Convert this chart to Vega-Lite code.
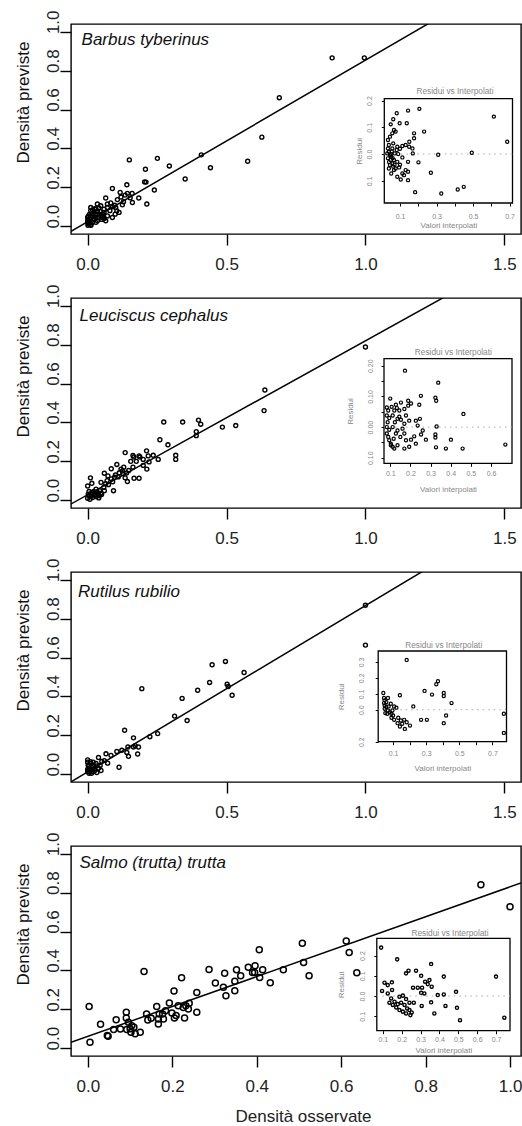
{
"$schema": "https://vega.github.io/schema/vega-lite/v6.json",
"padding": {"left": 13, "top": 9, "right": 0, "bottom": 0},
"config": {
 "font": "Liberation Sans",
 "view": {"stroke": "black", "strokeWidth": 1.4},
 "axis": {"grid": false, "domain": false, "labelFlush": false, "labelOverlap": false, "tickColor": "black", "titleFontWeight": "normal"}
},
"datasets": {
 "fits": [
  {"panel":1,"x1":-0.06,"y1":-0.026,"x2":1.3,"y2":1.103},
  {"panel":2,"x1":-0.062,"y1":-0.021,"x2":1.35,"y2":1.097},
  {"panel":3,"x1":-0.062,"y1":-0.041,"x2":1.25,"y2":1.081},
  {"panel":4,"x1":-0.04,"y1":0.03,"x2":1.026,"y2":0.85}
 ],
 "species": [
  {"panel":1,"name":"Barbus tyberinus"},
  {"panel":2,"name":"Leuciscus cephalus"},
  {"panel":3,"name":"Rutilus rubilio"},
  {"panel":4,"name":"Salmo (trutta) trutta"}
 ],
 "main": [
  {"panel":1,"obs":0.88,"pred":0.866},{"panel":1,"obs":0.996,"pred":0.866},{"panel":1,"obs":0.69,"pred":0.661},{"panel":1,"obs":0.627,"pred":0.458},{"panel":1,"obs":0.576,"pred":0.334},{"panel":1,"obs":0.409,"pred":0.367},{"panel":1,"obs":0.442,"pred":0.301},{"panel":1,"obs":0.351,"pred":0.243},{"panel":1,"obs":0.294,"pred":0.31},{"panel":1,"obs":0.251,"pred":0.349},{"panel":1,"obs":0.208,"pred":0.293},{"panel":1,"obs":0.15,"pred":0.341},{"panel":1,"obs":0.205,"pred":0.228},{"panel":1,"obs":0.21,"pred":0.227},{"panel":1,"obs":0.24,"pred":0.186},{"panel":1,"obs":0.213,"pred":0.114},{"panel":1,"obs":0.184,"pred":0.145},{"panel":1,"obs":0.141,"pred":0.213},{"panel":1,"obs":0.16,"pred":0.169},{"panel":1,"obs":0.143,"pred":0.169},{"panel":1,"obs":0.161,"pred":0.122},{"panel":1,"obs":0.153,"pred":0.146},{"panel":1,"obs":0.117,"pred":0.174},{"panel":1,"obs":0.089,"pred":0.194},{"panel":1,"obs":0.107,"pred":0.137},{"panel":1,"obs":0.125,"pred":0.11},{"panel":1,"obs":0.129,"pred":0.126},{"panel":1,"obs":0.089,"pred":0.045},{"panel":1,"obs":0.065,"pred":0.145},{"panel":1,"obs":0.083,"pred":0.12},{"panel":1,"obs":0.097,"pred":0.108},{"panel":1,"obs":0.101,"pred":0.096},{"panel":1,"obs":0.113,"pred":0.071},{"panel":1,"obs":0.105,"pred":0.079},{"panel":1,"obs":0.099,"pred":0.062},{"panel":1,"obs":0.071,"pred":0.096},{"panel":1,"obs":0.071,"pred":0.114},{"panel":1,"obs":0.059,"pred":0.088},{"panel":1,"obs":0.047,"pred":0.105},{"panel":1,"obs":0.035,"pred":0.114},{"panel":1,"obs":0.029,"pred":0.088},{"panel":1,"obs":0.011,"pred":0.079},{"panel":1,"obs":0.017,"pred":0.053},{"panel":1,"obs":0.041,"pred":0.062},{"panel":1,"obs":0.059,"pred":0.071},{"panel":1,"obs":0.053,"pred":0.045},{"panel":1,"obs":0.065,"pred":0.028},{"panel":1,"obs":0.035,"pred":0.028},{"panel":1,"obs":0.023,"pred":0.036},{"panel":1,"obs":0.005,"pred":0.036},{"panel":1,"obs":0.001,"pred":0.019},{"panel":1,"obs":0.001,"pred":0.005},{"panel":1,"obs":0.011,"pred":0.01},{"panel":1,"obs":0.0,"pred":0.045},{"panel":1,"obs":0.0,"pred":0.028},{"panel":1,"obs":0.023,"pred":0.071},{"panel":1,"obs":0.011,"pred":0.096},{"panel":1,"obs":0.035,"pred":0.079},{"panel":1,"obs":0.047,"pred":0.053},{"panel":1,"obs":0.071,"pred":0.053},{"panel":1,"obs":0.017,"pred":0.019},{"panel":1,"obs":0.029,"pred":0.045},{"panel":1,"obs":0.003,"pred":0.012},{"panel":1,"obs":0.006,"pred":0.06},{"panel":1,"obs":0.015,"pred":0.065},{"panel":1,"obs":0.025,"pred":0.09},{"panel":1,"obs":0.04,"pred":0.045},{"panel":1,"obs":0.05,"pred":0.035},{"panel":1,"obs":0.055,"pred":0.06},{"panel":1,"obs":0.045,"pred":0.075},{"panel":1,"obs":0.02,"pred":0.04},{"panel":1,"obs":0.008,"pred":0.025},{"panel":1,"obs":0.03,"pred":0.02},{"panel":1,"obs":0.012,"pred":0.005},{"panel":1,"obs":0.002,"pred":0.05},{"panel":1,"obs":0.08,"pred":0.08},{"panel":1,"obs":0.09,"pred":0.1},{"panel":1,"obs":0.12,"pred":0.15},{"panel":1,"obs":0.135,"pred":0.16},{"panel":1,"obs":0.04,"pred":0.095},{"panel":1,"obs":0.06,"pred":0.04},{"panel":1,"obs":0.028,"pred":0.06},{"panel":1,"obs":0.018,"pred":0.085},
  {"panel":2,"obs":1.0,"pred":0.788},{"panel":2,"obs":0.638,"pred":0.567},{"panel":2,"obs":0.635,"pred":0.461},{"panel":2,"obs":0.533,"pred":0.384},{"panel":2,"obs":0.485,"pred":0.376},{"panel":2,"obs":0.407,"pred":0.391},{"panel":2,"obs":0.399,"pred":0.412},{"panel":2,"obs":0.391,"pred":0.353},{"panel":2,"obs":0.391,"pred":0.332},{"panel":2,"obs":0.342,"pred":0.402},{"panel":2,"obs":0.274,"pred":0.402},{"panel":2,"obs":0.26,"pred":0.311},{"panel":2,"obs":0.289,"pred":0.285},{"panel":2,"obs":0.317,"pred":0.231},{"panel":2,"obs":0.317,"pred":0.21},{"panel":2,"obs":0.254,"pred":0.21},{"panel":2,"obs":0.236,"pred":0.231},{"panel":2,"obs":0.212,"pred":0.254},{"panel":2,"obs":0.218,"pred":0.228},{"panel":2,"obs":0.221,"pred":0.197},{"panel":2,"obs":0.213,"pred":0.16},{"panel":2,"obs":0.2,"pred":0.179},{"panel":2,"obs":0.185,"pred":0.228},{"panel":2,"obs":0.188,"pred":0.222},{"panel":2,"obs":0.163,"pred":0.23},{"panel":2,"obs":0.166,"pred":0.222},{"panel":2,"obs":0.135,"pred":0.245},{"panel":2,"obs":0.105,"pred":0.184},{"panel":2,"obs":0.085,"pred":0.162},{"panel":2,"obs":0.093,"pred":0.049},{"panel":2,"obs":0.167,"pred":0.113},{"panel":2,"obs":0.185,"pred":0.113},{"panel":2,"obs":0.135,"pred":0.115},{"panel":2,"obs":0.143,"pred":0.096},{"panel":2,"obs":0.163,"pred":0.17},{"panel":2,"obs":0.148,"pred":0.153},{"panel":2,"obs":0.127,"pred":0.136},{"panel":2,"obs":0.114,"pred":0.141},{"panel":2,"obs":0.097,"pred":0.118},{"panel":2,"obs":0.073,"pred":0.125},{"panel":2,"obs":0.06,"pred":0.139},{"panel":2,"obs":0.07,"pred":0.101},{"panel":2,"obs":0.048,"pred":0.092},{"panel":2,"obs":0.058,"pred":0.066},{"panel":2,"obs":0.044,"pred":0.049},{"panel":2,"obs":0.03,"pred":0.057},{"panel":2,"obs":0.015,"pred":0.087},{"panel":2,"obs":0.01,"pred":0.115},{"panel":2,"obs":0.0,"pred":0.073},{"panel":2,"obs":0.015,"pred":0.04},{"panel":2,"obs":0.028,"pred":0.031},{"panel":2,"obs":0.037,"pred":0.031},{"panel":2,"obs":0.006,"pred":0.023},{"panel":2,"obs":0.0,"pred":0.01},{"panel":2,"obs":0.018,"pred":0.014},{"panel":2,"obs":0.03,"pred":0.019},{"panel":2,"obs":0.042,"pred":0.023},{"panel":2,"obs":0.002,"pred":0.031},{"panel":2,"obs":0.048,"pred":0.036},{"panel":2,"obs":0.06,"pred":0.049},{"panel":2,"obs":0.008,"pred":0.005},{"panel":2,"obs":0.022,"pred":0.045},{"panel":2,"obs":0.035,"pred":0.04},{"panel":2,"obs":0.005,"pred":0.045},{"panel":2,"obs":0.012,"pred":0.02},{"panel":2,"obs":0.025,"pred":0.025},{"panel":2,"obs":0.04,"pred":0.012},{"panel":2,"obs":0.05,"pred":0.03},{"panel":2,"obs":0.075,"pred":0.08},{"panel":2,"obs":0.085,"pred":0.11},{"panel":2,"obs":0.1,"pred":0.13},{"panel":2,"obs":0.12,"pred":0.16},{"panel":2,"obs":0.13,"pred":0.17},{"panel":2,"obs":0.11,"pred":0.12},{"panel":2,"obs":0.155,"pred":0.2},{"panel":2,"obs":0.175,"pred":0.2},{"panel":2,"obs":0.2,"pred":0.21},{"panel":2,"obs":0.09,"pred":0.095},{"panel":2,"obs":0.065,"pred":0.085},{"panel":2,"obs":0.14,"pred":0.14},{"panel":2,"obs":0.125,"pred":0.15},
  {"panel":3,"obs":1.0,"pred":0.869},{"panel":3,"obs":1.0,"pred":0.664},{"panel":3,"obs":0.496,"pred":0.58},{"panel":3,"obs":0.448,"pred":0.563},{"panel":3,"obs":0.563,"pred":0.523},{"panel":3,"obs":0.439,"pred":0.472},{"panel":3,"obs":0.396,"pred":0.432},{"panel":3,"obs":0.502,"pred":0.463},{"panel":3,"obs":0.506,"pred":0.451},{"panel":3,"obs":0.52,"pred":0.406},{"panel":3,"obs":0.34,"pred":0.39},{"panel":3,"obs":0.195,"pred":0.44},{"panel":3,"obs":0.313,"pred":0.299},{"panel":3,"obs":0.358,"pred":0.276},{"panel":3,"obs":0.252,"pred":0.209},{"panel":3,"obs":0.224,"pred":0.193},{"panel":3,"obs":0.133,"pred":0.226},{"panel":3,"obs":0.165,"pred":0.187},{"panel":3,"obs":0.147,"pred":0.092},{"panel":3,"obs":0.18,"pred":0.104},{"panel":3,"obs":0.165,"pred":0.14},{"panel":3,"obs":0.183,"pred":0.14},{"panel":3,"obs":0.171,"pred":0.147},{"panel":3,"obs":0.145,"pred":0.14},{"panel":3,"obs":0.141,"pred":0.112},{"panel":3,"obs":0.123,"pred":0.123},{"panel":3,"obs":0.105,"pred":0.117},{"panel":3,"obs":0.113,"pred":0.036},{"panel":3,"obs":0.084,"pred":0.097},{"panel":3,"obs":0.066,"pred":0.105},{"panel":3,"obs":0.072,"pred":0.057},{"panel":3,"obs":0.051,"pred":0.066},{"panel":3,"obs":0.039,"pred":0.086},{"panel":3,"obs":0.033,"pred":0.043},{"panel":3,"obs":0.02,"pred":0.062},{"panel":3,"obs":0.0,"pred":0.074},{"panel":3,"obs":0.002,"pred":0.048},{"panel":3,"obs":0.008,"pred":0.026},{"panel":3,"obs":0.014,"pred":0.036},{"panel":3,"obs":0.026,"pred":0.019},{"panel":3,"obs":0.033,"pred":0.009},{"panel":3,"obs":0.005,"pred":0.005},{"panel":3,"obs":0.0,"pred":0.014},{"panel":3,"obs":0.02,"pred":0.014},{"panel":3,"obs":0.012,"pred":0.057},{"panel":3,"obs":0.039,"pred":0.031},{"panel":3,"obs":0.005,"pred":0.031},{"panel":3,"obs":0.0,"pred":0.062},{"panel":3,"obs":0.014,"pred":0.005},{"panel":3,"obs":0.048,"pred":0.019},{"panel":3,"obs":0.01,"pred":0.02},{"panel":3,"obs":0.003,"pred":0.04},{"panel":3,"obs":0.018,"pred":0.045},{"panel":3,"obs":0.025,"pred":0.03},{"panel":3,"obs":0.006,"pred":0.012},{"panel":3,"obs":0.03,"pred":0.055},{"panel":3,"obs":0.045,"pred":0.045},{"panel":3,"obs":0.06,"pred":0.07},{"panel":3,"obs":0.01,"pred":0.065},{"panel":3,"obs":0.0,"pred":0.025},
  {"panel":4,"obs":0.931,"pred":0.841},{"panel":4,"obs":1.0,"pred":0.728},{"panel":4,"obs":0.612,"pred":0.552},{"panel":4,"obs":0.619,"pred":0.492},{"panel":4,"obs":0.637,"pred":0.388},{"panel":4,"obs":0.508,"pred":0.54},{"panel":4,"obs":0.511,"pred":0.441},{"panel":4,"obs":0.524,"pred":0.373},{"panel":4,"obs":0.463,"pred":0.403},{"panel":4,"obs":0.432,"pred":0.337},{"panel":4,"obs":0.406,"pred":0.506},{"panel":4,"obs":0.407,"pred":0.364},{"panel":4,"obs":0.414,"pred":0.403},{"panel":4,"obs":0.396,"pred":0.424},{"panel":4,"obs":0.38,"pred":0.417},{"panel":4,"obs":0.39,"pred":0.39},{"panel":4,"obs":0.362,"pred":0.373},{"panel":4,"obs":0.352,"pred":0.403},{"panel":4,"obs":0.348,"pred":0.345},{"panel":4,"obs":0.348,"pred":0.296},{"panel":4,"obs":0.327,"pred":0.27},{"panel":4,"obs":0.321,"pred":0.313},{"panel":4,"obs":0.324,"pred":0.385},{"panel":4,"obs":0.302,"pred":0.335},{"panel":4,"obs":0.287,"pred":0.405},{"panel":4,"obs":0.258,"pred":0.287},{"panel":4,"obs":0.258,"pred":0.185},{"panel":4,"obs":0.222,"pred":0.362},{"panel":4,"obs":0.204,"pred":0.294},{"panel":4,"obs":0.133,"pred":0.395},{"panel":4,"obs":0.003,"pred":0.214},{"panel":4,"obs":0.005,"pred":0.031},{"panel":4,"obs":0.03,"pred":0.123},{"panel":4,"obs":0.067,"pred":0.147},{"panel":4,"obs":0.046,"pred":0.065},{"panel":4,"obs":0.048,"pred":0.062},{"panel":4,"obs":0.061,"pred":0.096},{"panel":4,"obs":0.077,"pred":0.099},{"panel":4,"obs":0.091,"pred":0.185},{"panel":4,"obs":0.091,"pred":0.156},{"panel":4,"obs":0.096,"pred":0.133},{"panel":4,"obs":0.104,"pred":0.116},{"panel":4,"obs":0.092,"pred":0.096},{"panel":4,"obs":0.102,"pred":0.082},{"panel":4,"obs":0.112,"pred":0.074},{"panel":4,"obs":0.109,"pred":0.108},{"panel":4,"obs":0.124,"pred":0.082},{"panel":4,"obs":0.139,"pred":0.176},{"panel":4,"obs":0.142,"pred":0.145},{"panel":4,"obs":0.15,"pred":0.154},{"panel":4,"obs":0.163,"pred":0.215},{"panel":4,"obs":0.167,"pred":0.15},{"panel":4,"obs":0.167,"pred":0.125},{"panel":4,"obs":0.169,"pred":0.176},{"panel":4,"obs":0.177,"pred":0.176},{"panel":4,"obs":0.184,"pred":0.193},{"panel":4,"obs":0.193,"pred":0.232},{"panel":4,"obs":0.199,"pred":0.181},{"panel":4,"obs":0.205,"pred":0.156},{"panel":4,"obs":0.209,"pred":0.168},{"panel":4,"obs":0.214,"pred":0.219},{"panel":4,"obs":0.226,"pred":0.21},{"panel":4,"obs":0.229,"pred":0.156},{"panel":4,"obs":0.232,"pred":0.219},{"panel":4,"obs":0.238,"pred":0.202},{"panel":4,"obs":0.24,"pred":0.231},{"panel":4,"obs":0.179,"pred":0.15},{"panel":4,"obs":0.395,"pred":0.39},{"panel":4,"obs":0.1,"pred":0.1}
 ],
 "resid": [
  {"panel":1,"fit":0.206,"res":0.169},{"panel":1,"fit":0.144,"res":0.1625},{"panel":1,"fit":0.082,"res":0.1525},{"panel":1,"fit":0.063,"res":0.13},{"panel":1,"fit":0.049,"res":0.111},{"panel":1,"fit":0.098,"res":0.115},{"panel":1,"fit":0.137,"res":0.115},{"panel":1,"fit":0.614,"res":0.14},{"panel":1,"fit":0.687,"res":0.046},{"panel":1,"fit":0.493,"res":0.005},{"panel":1,"fit":0.309,"res":-0.0025},{"panel":1,"fit":0.232,"res":0.084},{"panel":1,"fit":0.177,"res":0.0775},{"panel":1,"fit":0.177,"res":0.059},{"panel":1,"fit":0.151,"res":0.046},{"panel":1,"fit":0.131,"res":0.034},{"panel":1,"fit":0.15,"res":0.0275},{"panel":1,"fit":0.168,"res":0.021},{"panel":1,"fit":0.17,"res":0.0025},{"panel":1,"fit":0.113,"res":0.03},{"panel":1,"fit":0.085,"res":0.0275},{"panel":1,"fit":0.144,"res":-0.029},{"panel":1,"fit":0.201,"res":-0.031},{"panel":1,"fit":0.113,"res":-0.0125},{"panel":1,"fit":0.269,"res":-0.07},{"panel":1,"fit":0.183,"res":-0.1425},{"panel":1,"fit":0.326,"res":-0.1475},{"panel":1,"fit":0.416,"res":-0.1325},{"panel":1,"fit":0.449,"res":-0.1225},{"panel":1,"fit":0.144,"res":-0.0975},{"panel":1,"fit":0.104,"res":-0.095},{"panel":1,"fit":0.122,"res":-0.079},{"panel":1,"fit":0.144,"res":-0.066},{"panel":1,"fit":0.131,"res":-0.06},{"panel":1,"fit":0.113,"res":-0.0725},{"panel":1,"fit":0.085,"res":-0.085},{"panel":1,"fit":0.052,"res":-0.0725},{"panel":1,"fit":0.067,"res":-0.06},{"panel":1,"fit":0.067,"res":0.09},{"panel":1,"fit":0.076,"res":0.084},{"panel":1,"fit":0.058,"res":0.0775},{"panel":1,"fit":0.045,"res":0.065},{"panel":1,"fit":0.034,"res":0.0525},{"panel":1,"fit":0.039,"res":0.034},{"panel":1,"fit":0.034,"res":0.021},{"panel":1,"fit":0.039,"res":0.009},{"panel":1,"fit":0.045,"res":-0.004},{"panel":1,"fit":0.034,"res":-0.016},{"panel":1,"fit":0.049,"res":-0.022},{"panel":1,"fit":0.058,"res":-0.035},{"panel":1,"fit":0.045,"res":-0.041},{"panel":1,"fit":0.063,"res":-0.047},{"panel":1,"fit":0.076,"res":-0.054},{"panel":1,"fit":0.039,"res":-0.054},{"panel":1,"fit":0.052,"res":-0.01},{"panel":1,"fit":0.067,"res":-0.022},{"panel":1,"fit":0.085,"res":-0.029},{"panel":1,"fit":0.071,"res":0.0025},{"panel":1,"fit":0.058,"res":0.021},{"panel":1,"fit":0.082,"res":0.015},{"panel":1,"fit":0.03,"res":0.0025},{"panel":1,"fit":0.063,"res":0.04},{"panel":1,"fit":0.04,"res":-0.03},{"panel":1,"fit":0.05,"res":0.0},{"panel":1,"fit":0.06,"res":-0.015},{"panel":1,"fit":0.055,"res":0.01},{"panel":1,"fit":0.07,"res":-0.04},{"panel":1,"fit":0.095,"res":-0.05},{"panel":1,"fit":0.1,"res":-0.04},{"panel":1,"fit":0.09,"res":0.0},{"panel":1,"fit":0.1,"res":0.02},
  {"panel":2,"fit":0.173,"res":0.184},{"panel":2,"fit":0.338,"res":0.145},{"panel":2,"fit":0.252,"res":0.102},{"panel":2,"fit":0.324,"res":0.096},{"panel":2,"fit":0.328,"res":0.086},{"panel":2,"fit":0.244,"res":0.073},{"panel":2,"fit":0.463,"res":0.043},{"panel":2,"fit":0.33,"res":0.002},{"panel":2,"fit":0.324,"res":-0.024},{"panel":2,"fit":0.324,"res":-0.034},{"panel":2,"fit":0.277,"res":-0.041},{"panel":2,"fit":0.401,"res":-0.041},{"panel":2,"fit":0.327,"res":-0.066},{"panel":2,"fit":0.376,"res":-0.07},{"panel":2,"fit":0.459,"res":-0.07},{"panel":2,"fit":0.671,"res":-0.057},{"panel":2,"fit":0.1,"res":0.093},{"panel":2,"fit":0.189,"res":0.086},{"panel":2,"fit":0.203,"res":0.077},{"panel":2,"fit":0.189,"res":0.07},{"panel":2,"fit":0.153,"res":0.08},{"panel":2,"fit":0.128,"res":0.073},{"panel":2,"fit":0.145,"res":0.054},{"panel":2,"fit":0.17,"res":0.059},{"panel":2,"fit":0.178,"res":0.038},{"panel":2,"fit":0.194,"res":0.021},{"panel":2,"fit":0.227,"res":0.021},{"panel":2,"fit":0.247,"res":0.027},{"panel":2,"fit":0.236,"res":0.005},{"panel":2,"fit":0.261,"res":-0.011},{"panel":2,"fit":0.253,"res":-0.024},{"panel":2,"fit":0.219,"res":-0.03},{"panel":2,"fit":0.203,"res":-0.041},{"panel":2,"fit":0.227,"res":-0.054},{"panel":2,"fit":0.194,"res":-0.064},{"panel":2,"fit":0.17,"res":-0.07},{"panel":2,"fit":0.136,"res":-0.059},{"panel":2,"fit":0.083,"res":0.064},{"panel":2,"fit":0.09,"res":0.054},{"panel":2,"fit":0.083,"res":0.038},{"panel":2,"fit":0.095,"res":0.03},{"panel":2,"fit":0.087,"res":0.016},{"panel":2,"fit":0.083,"res":0.0},{"panel":2,"fit":0.095,"res":-0.009},{"panel":2,"fit":0.083,"res":-0.021},{"panel":2,"fit":0.09,"res":-0.032},{"panel":2,"fit":0.095,"res":-0.043},{"panel":2,"fit":0.103,"res":-0.054},{"panel":2,"fit":0.112,"res":-0.064},{"panel":2,"fit":0.12,"res":-0.07},{"panel":2,"fit":0.117,"res":-0.038},{"panel":2,"fit":0.128,"res":-0.021},{"panel":2,"fit":0.136,"res":-0.011},{"panel":2,"fit":0.112,"res":0.0},{"panel":2,"fit":0.123,"res":0.016},{"panel":2,"fit":0.136,"res":0.027},{"panel":2,"fit":0.112,"res":0.038},{"panel":2,"fit":0.145,"res":0.034},{"panel":2,"fit":0.153,"res":0.024},{"panel":2,"fit":0.17,"res":0.011},{"panel":2,"fit":0.161,"res":-0.005},{"panel":2,"fit":0.15,"res":-0.032},{"panel":2,"fit":0.17,"res":-0.021},{"panel":2,"fit":0.178,"res":-0.043},{"panel":2,"fit":0.12,"res":0.054},{"panel":2,"fit":0.107,"res":0.066},{"panel":2,"fit":0.133,"res":0.062},{"panel":2,"fit":0.103,"res":-0.059},
  {"panel":3,"fit":0.182,"res":0.312},{"panel":3,"fit":0.371,"res":0.179},{"panel":3,"fit":0.361,"res":0.16},{"panel":3,"fit":0.29,"res":0.118},{"panel":3,"fit":0.335,"res":0.095},{"panel":3,"fit":0.406,"res":0.105},{"panel":3,"fit":0.406,"res":0.086},{"panel":3,"fit":0.453,"res":0.042},{"panel":3,"fit":0.42,"res":-0.036},{"panel":3,"fit":0.406,"res":-0.084},{"panel":3,"fit":0.269,"res":-0.063},{"panel":3,"fit":0.304,"res":-0.063},{"panel":3,"fit":0.769,"res":-0.025},{"panel":3,"fit":0.769,"res":-0.145},{"panel":3,"fit":0.141,"res":0.091},{"panel":3,"fit":0.222,"res":0.021},{"panel":3,"fit":0.041,"res":0.105},{"panel":3,"fit":0.045,"res":0.074},{"panel":3,"fit":0.049,"res":0.059},{"panel":3,"fit":0.045,"res":0.042},{"panel":3,"fit":0.049,"res":0.027},{"panel":3,"fit":0.059,"res":0.017},{"panel":3,"fit":0.049,"res":0.006},{"panel":3,"fit":0.069,"res":-0.004},{"panel":3,"fit":0.08,"res":-0.015},{"panel":3,"fit":0.09,"res":-0.025},{"panel":3,"fit":0.059,"res":0.048},{"panel":3,"fit":0.069,"res":0.074},{"panel":3,"fit":0.073,"res":0.021},{"panel":3,"fit":0.065,"res":-0.025},{"panel":3,"fit":0.1,"res":-0.036},{"panel":3,"fit":0.086,"res":0.038},{"panel":3,"fit":0.106,"res":0.021},{"panel":3,"fit":0.12,"res":0.013},{"panel":3,"fit":0.096,"res":-0.004},{"panel":3,"fit":0.053,"res":-0.021},{"panel":3,"fit":0.106,"res":-0.063},{"panel":3,"fit":0.131,"res":-0.05},{"panel":3,"fit":0.147,"res":-0.067},{"panel":3,"fit":0.155,"res":-0.088},{"panel":3,"fit":0.141,"res":-0.105},{"panel":3,"fit":0.127,"res":-0.084},{"panel":3,"fit":0.171,"res":-0.12},{"panel":3,"fit":0.202,"res":-0.099},{"panel":3,"fit":0.167,"res":-0.063},{"panel":3,"fit":0.182,"res":-0.078},{"panel":3,"fit":0.09,"res":-0.05},
  {"panel":4,"fit":0.091,"res":0.239},{"panel":4,"fit":0.176,"res":0.181},{"panel":4,"fit":0.356,"res":0.158},{"panel":4,"fit":0.276,"res":0.125},{"panel":4,"fit":0.236,"res":0.125},{"panel":4,"fit":0.223,"res":0.112},{"panel":4,"fit":0.303,"res":0.1},{"panel":4,"fit":0.423,"res":0.096},{"panel":4,"fit":0.7,"res":0.096},{"panel":4,"fit":0.324,"res":0.071},{"panel":4,"fit":0.347,"res":0.079},{"panel":4,"fit":0.338,"res":0.059},{"panel":4,"fit":0.359,"res":0.046},{"panel":4,"fit":0.109,"res":0.066},{"panel":4,"fit":0.126,"res":0.054},{"panel":4,"fit":0.148,"res":0.068},{"panel":4,"fit":0.096,"res":0.025},{"panel":4,"fit":0.126,"res":0.013},{"panel":4,"fit":0.149,"res":0.03},{"panel":4,"fit":0.26,"res":0.041},{"panel":4,"fit":0.285,"res":0.041},{"panel":4,"fit":0.308,"res":0.041},{"panel":4,"fit":0.303,"res":0.016},{"panel":4,"fit":0.32,"res":0.013},{"panel":4,"fit":0.391,"res":0.005},{"panel":4,"fit":0.423,"res":0.008},{"panel":4,"fit":0.488,"res":0.021},{"panel":4,"fit":0.356,"res":-0.031},{"panel":4,"fit":0.306,"res":-0.049},{"panel":4,"fit":0.373,"res":-0.086},{"panel":4,"fit":0.432,"res":-0.049},{"panel":4,"fit":0.493,"res":-0.058},{"panel":4,"fit":0.509,"res":-0.119},{"panel":4,"fit":0.744,"res":-0.107},{"panel":4,"fit":0.135,"res":-0.033},{"panel":4,"fit":0.153,"res":-0.044},{"panel":4,"fit":0.171,"res":-0.056},{"panel":4,"fit":0.188,"res":-0.069},{"panel":4,"fit":0.197,"res":-0.033},{"panel":4,"fit":0.215,"res":-0.044},{"panel":4,"fit":0.229,"res":-0.061},{"panel":4,"fit":0.206,"res":-0.077},{"panel":4,"fit":0.223,"res":-0.086},{"panel":4,"fit":0.241,"res":-0.069},{"panel":4,"fit":0.246,"res":-0.094},{"panel":4,"fit":0.253,"res":-0.081},{"panel":4,"fit":0.188,"res":-0.003},{"panel":4,"fit":0.206,"res":0.002},{"panel":4,"fit":0.223,"res":-0.015},{"panel":4,"fit":0.241,"res":-0.033},{"panel":4,"fit":0.162,"res":-0.028},{"panel":4,"fit":0.179,"res":-0.04},{"panel":4,"fit":0.264,"res":-0.033},{"panel":4,"fit":0.144,"res":-0.012}
 ]
},
"spacing": 64,
"bounds": "flush",
"vconcat": [
 {
  "width": 450, "height": 210,
  "resolve": {"scale": {"x": "independent", "y": "independent"}, "axis": {"x": "independent", "y": "independent"}},
  "layer": [
    {"data": {"name": "fits"}, "transform": [{"filter": "datum.panel == 1"}],
     "mark": {"type": "rule", "clip": true, "color": "black", "strokeWidth": 1.5},
     "encoding": {"x": {"field": "x1", "type": "quantitative", "scale": {"domain": [-0.06, 1.56], "nice": false, "zero": false}, "axis": null},
                  "y": {"field": "y1", "type": "quantitative", "scale": {"domain": [-0.04, 1.04], "nice": false, "zero": false}, "axis": null},
                  "x2": {"field": "x2"}, "y2": {"field": "y2"}}},
    {"data": {"name": "main"}, "transform": [{"filter": "datum.panel == 1"}],
     "mark": {"type": "point", "shape": "circle", "filled": false, "color": "black", "size": 16, "strokeWidth": 1.4, "opacity": 1},
     "encoding": {"x": {"field": "obs", "type": "quantitative", "scale": {"domain": [-0.06, 1.56], "nice": false, "zero": false},
                        "axis": {"orient": "bottom", "values": [0, 0.5, 1, 1.5], "format": ".1f", "title": null, "tickSize": 11, "tickWidth": 1.4, "labelFontSize": 17, "labelColor": "#222", "labelPadding": 19, "labelBaseline": "middle"}},
                  "y": {"field": "pred", "type": "quantitative", "scale": {"domain": [-0.04, 1.04], "nice": false, "zero": false},
                        "axis": {"orient": "left", "values": [0, 0.2, 0.4, 0.6, 0.8, 1], "format": ".1f", "title": "Densità previste", "tickSize": 11, "tickWidth": 1.4, "labelFontSize": 17, "labelColor": "#222", "labelAngle": 270, "labelAlign": "center", "labelBaseline": "alphabetic", "labelPadding": 2, "labelOffset": -10, "titleFontSize": 17, "titleColor": "#111", "titleAngle": 270, "titleX": -48, "titleY": 78, "titleAlign": "center", "titleBaseline": "middle"}}}},
    {"data": {"name": "species"}, "transform": [{"filter": "datum.panel == 1"}],
     "mark": {"type": "text", "align": "left", "baseline": "middle", "fontSize": 17, "fontStyle": "italic", "color": "#111"},
     "encoding": {"x": {"datum": -0.022, "scale": {"domain": [-0.06, 1.56], "nice": false, "zero": false}, "axis": null},
                  "y": {"datum": 0.957, "scale": {"domain": [-0.04, 1.04], "nice": false, "zero": false}, "axis": null},
                  "text": {"field": "name"}}},
    {"data": {"name": "species"}, "transform": [{"filter": "datum.panel == 1"}],
     "mark": {"type": "rect", "fill": "white", "stroke": "black", "strokeWidth": 1.3},
     "encoding": {"x": {"datum": 0.014, "scale": {"domain": [0.014, 0.716], "range": [313.3, 441.5], "nice": false, "zero": false}, "axis": null},
                  "x2": {"datum": 0.716},
                  "y": {"datum": -0.183, "scale": {"domain": [-0.183, 0.207], "range": [179, 74.7], "nice": false, "zero": false}, "axis": null},
                  "y2": {"datum": 0.207}}},
    {"data": {"name": "species"}, "transform": [{"filter": "datum.panel == 1"}],
     "mark": {"type": "rule", "color": "#aaaaaa", "strokeDash": [1.5, 4], "strokeWidth": 1},
     "encoding": {"x": {"datum": 0.014, "scale": {"domain": [0.014, 0.716], "range": [313.3, 441.5], "nice": false, "zero": false}, "axis": null},
                  "x2": {"datum": 0.716},
                  "y": {"datum": 0, "scale": {"domain": [-0.183, 0.207], "range": [179, 74.7], "nice": false, "zero": false}, "axis": null}}},
    {"data": {"name": "resid"}, "transform": [{"filter": "datum.panel == 1"}],
     "mark": {"type": "point", "shape": "circle", "filled": false, "color": "black", "size": 10, "strokeWidth": 1.2, "opacity": 1},
     "encoding": {"x": {"field": "fit", "type": "quantitative", "scale": {"domain": [0.014, 0.716], "range": [313.3, 441.5], "nice": false, "zero": false},
                        "axis": {"orient": "bottom", "offset": -31, "values": [0.1, 0.2, 0.3, 0.4, 0.5, 0.6, 0.7], "labelExpr": "round(datum.value*10) % 2 == 1 ? format(datum.value, '.1f') : ''", "tickSize": 3, "tickWidth": 1, "labelFontSize": 7, "labelColor": "#888", "labelPadding": 10, "labelBaseline": "middle", "title": "Valori interpolati", "titleFontSize": 8, "titleColor": "#888", "titleY": 22, "titleBaseline": "middle"}},
                  "y": {"field": "res", "type": "quantitative", "scale": {"domain": [-0.183, 0.207], "range": [179, 74.7], "nice": false, "zero": false},
                        "axis": {"orient": "left", "offset": -313.3, "values": [-0.1, 0, 0.1, 0.2], "labelExpr": "format(abs(datum.value), '.1f')", "tickSize": 3, "tickWidth": 1, "labelFontSize": 7, "labelColor": "#888", "labelAngle": 270, "labelAlign": "center", "labelBaseline": "alphabetic", "labelPadding": 9.5, "title": "Residui", "titleFontSize": 8, "titleColor": "#888", "titleAngle": 270, "titleX": -25, "titleAlign": "center", "titleBaseline": "middle"}}}},
    {"data": {"name": "species"}, "transform": [{"filter": "datum.panel == 1"}],
     "mark": {"type": "text", "align": "center", "baseline": "middle", "fontSize": 8.3, "color": "#888", "dy": -7},
     "encoding": {"x": {"datum": 0.401, "scale": {"domain": [0.014, 0.716], "range": [313.3, 441.5], "nice": false, "zero": false}, "axis": null},
                  "y": {"datum": 0.207, "scale": {"domain": [-0.183, 0.207], "range": [179, 74.7], "nice": false, "zero": false}, "axis": null},
                  "text": {"value": "Residui vs Interpolati"}}}
  ]
 },
 {
  "width": 450, "height": 210,
  "resolve": {"scale": {"x": "independent", "y": "independent"}, "axis": {"x": "independent", "y": "independent"}},
  "layer": [
    {"data": {"name": "fits"}, "transform": [{"filter": "datum.panel == 2"}],
     "mark": {"type": "rule", "clip": true, "color": "black", "strokeWidth": 1.5},
     "encoding": {"x": {"field": "x1", "type": "quantitative", "scale": {"domain": [-0.06, 1.56], "nice": false, "zero": false}, "axis": null},
                  "y": {"field": "y1", "type": "quantitative", "scale": {"domain": [-0.04, 1.04], "nice": false, "zero": false}, "axis": null},
                  "x2": {"field": "x2"}, "y2": {"field": "y2"}}},
    {"data": {"name": "main"}, "transform": [{"filter": "datum.panel == 2"}],
     "mark": {"type": "point", "shape": "circle", "filled": false, "color": "black", "size": 16, "strokeWidth": 1.4, "opacity": 1},
     "encoding": {"x": {"field": "obs", "type": "quantitative", "scale": {"domain": [-0.06, 1.56], "nice": false, "zero": false},
                        "axis": {"orient": "bottom", "values": [0, 0.5, 1, 1.5], "format": ".1f", "title": null, "tickSize": 11, "tickWidth": 1.4, "labelFontSize": 17, "labelColor": "#222", "labelPadding": 19, "labelBaseline": "middle"}},
                  "y": {"field": "pred", "type": "quantitative", "scale": {"domain": [-0.04, 1.04], "nice": false, "zero": false},
                        "axis": {"orient": "left", "values": [0, 0.2, 0.4, 0.6, 0.8, 1], "format": ".1f", "title": "Densità previste", "tickSize": 11, "tickWidth": 1.4, "labelFontSize": 17, "labelColor": "#222", "labelAngle": 270, "labelAlign": "center", "labelBaseline": "alphabetic", "labelPadding": 2, "labelOffset": -10, "titleFontSize": 17, "titleColor": "#111", "titleAngle": 270, "titleX": -48, "titleY": 78, "titleAlign": "center", "titleBaseline": "middle"}}}},
    {"data": {"name": "species"}, "transform": [{"filter": "datum.panel == 2"}],
     "mark": {"type": "text", "align": "left", "baseline": "middle", "fontSize": 17, "fontStyle": "italic", "color": "#111"},
     "encoding": {"x": {"datum": -0.029, "scale": {"domain": [-0.06, 1.56], "nice": false, "zero": false}, "axis": null},
                  "y": {"datum": 0.948, "scale": {"domain": [-0.04, 1.04], "nice": false, "zero": false}, "axis": null},
                  "text": {"field": "name"}}},
    {"data": {"name": "species"}, "transform": [{"filter": "datum.panel == 2"}],
     "mark": {"type": "rect", "fill": "white", "stroke": "black", "strokeWidth": 1.3},
     "encoding": {"x": {"datum": 0.069, "scale": {"domain": [0.069, 0.704], "range": [313, 441], "nice": false, "zero": false}, "axis": null},
                  "x2": {"datum": 0.704},
                  "y": {"datum": -0.118, "scale": {"domain": [-0.118, 0.223], "range": [165.3, 60.7], "nice": false, "zero": false}, "axis": null},
                  "y2": {"datum": 0.223}}},
    {"data": {"name": "species"}, "transform": [{"filter": "datum.panel == 2"}],
     "mark": {"type": "rule", "color": "#aaaaaa", "strokeDash": [1.5, 4], "strokeWidth": 1},
     "encoding": {"x": {"datum": 0.069, "scale": {"domain": [0.069, 0.704], "range": [313, 441], "nice": false, "zero": false}, "axis": null},
                  "x2": {"datum": 0.704},
                  "y": {"datum": 0, "scale": {"domain": [-0.118, 0.223], "range": [165.3, 60.7], "nice": false, "zero": false}, "axis": null}}},
    {"data": {"name": "resid"}, "transform": [{"filter": "datum.panel == 2"}],
     "mark": {"type": "point", "shape": "circle", "filled": false, "color": "black", "size": 10, "strokeWidth": 1.2, "opacity": 1},
     "encoding": {"x": {"field": "fit", "type": "quantitative", "scale": {"domain": [0.069, 0.704], "range": [313, 441], "nice": false, "zero": false},
                        "axis": {"orient": "bottom", "offset": -44.7, "values": [0.1, 0.2, 0.3, 0.4, 0.5, 0.6], "format": ".1f", "tickSize": 3, "tickWidth": 1, "labelFontSize": 7, "labelColor": "#888", "labelPadding": 7, "labelBaseline": "middle", "title": "Valori interpolati", "titleFontSize": 8, "titleColor": "#888", "titleY": 26, "titleBaseline": "middle"}},
                  "y": {"field": "res", "type": "quantitative", "scale": {"domain": [-0.118, 0.223], "range": [165.3, 60.7], "nice": false, "zero": false},
                        "axis": {"orient": "left", "offset": -313, "values": [-0.1, -0.05, 0, 0.05, 0.1, 0.15, 0.2], "labelExpr": "round(abs(datum.value)*100) % 10 == 0 ? format(abs(datum.value), '.2f') : ''", "tickSize": 3, "tickWidth": 1, "labelFontSize": 7, "labelColor": "#888", "labelAngle": 270, "labelAlign": "center", "labelBaseline": "alphabetic", "labelPadding": 9, "title": "Residui", "titleFontSize": 8, "titleColor": "#888", "titleAngle": 270, "titleX": -34, "titleAlign": "center", "titleBaseline": "middle"}}}},
    {"data": {"name": "species"}, "transform": [{"filter": "datum.panel == 2"}],
     "mark": {"type": "text", "align": "center", "baseline": "middle", "fontSize": 8.3, "color": "#888", "dy": -6},
     "encoding": {"x": {"datum": 0.413, "scale": {"domain": [0.069, 0.704], "range": [313, 441], "nice": false, "zero": false}, "axis": null},
                  "y": {"datum": 0.223, "scale": {"domain": [-0.118, 0.223], "range": [165.3, 60.7], "nice": false, "zero": false}, "axis": null},
                  "text": {"value": "Residui vs Interpolati"}}}
  ]
 },
 {
  "width": 450, "height": 210,
  "resolve": {"scale": {"x": "independent", "y": "independent"}, "axis": {"x": "independent", "y": "independent"}},
  "layer": [
    {"data": {"name": "fits"}, "transform": [{"filter": "datum.panel == 3"}],
     "mark": {"type": "rule", "clip": true, "color": "black", "strokeWidth": 1.5},
     "encoding": {"x": {"field": "x1", "type": "quantitative", "scale": {"domain": [-0.06, 1.56], "nice": false, "zero": false}, "axis": null},
                  "y": {"field": "y1", "type": "quantitative", "scale": {"domain": [-0.04, 1.04], "nice": false, "zero": false}, "axis": null},
                  "x2": {"field": "x2"}, "y2": {"field": "y2"}}},
    {"data": {"name": "main"}, "transform": [{"filter": "datum.panel == 3"}],
     "mark": {"type": "point", "shape": "circle", "filled": false, "color": "black", "size": 16, "strokeWidth": 1.4, "opacity": 1},
     "encoding": {"x": {"field": "obs", "type": "quantitative", "scale": {"domain": [-0.06, 1.56], "nice": false, "zero": false},
                        "axis": {"orient": "bottom", "values": [0, 0.5, 1, 1.5], "format": ".1f", "title": null, "tickSize": 11, "tickWidth": 1.4, "labelFontSize": 17, "labelColor": "#222", "labelPadding": 19, "labelBaseline": "middle"}},
                  "y": {"field": "pred", "type": "quantitative", "scale": {"domain": [-0.04, 1.04], "nice": false, "zero": false},
                        "axis": {"orient": "left", "values": [0, 0.2, 0.4, 0.6, 0.8, 1], "format": ".1f", "title": "Densità previste", "tickSize": 11, "tickWidth": 1.4, "labelFontSize": 17, "labelColor": "#222", "labelAngle": 270, "labelAlign": "center", "labelBaseline": "alphabetic", "labelPadding": 2, "labelOffset": -10, "titleFontSize": 17, "titleColor": "#111", "titleAngle": 270, "titleX": -48, "titleY": 78, "titleAlign": "center", "titleBaseline": "middle"}}}},
    {"data": {"name": "species"}, "transform": [{"filter": "datum.panel == 3"}],
     "mark": {"type": "text", "align": "left", "baseline": "middle", "fontSize": 17, "fontStyle": "italic", "color": "#111"},
     "encoding": {"x": {"datum": -0.035, "scale": {"domain": [-0.06, 1.56], "nice": false, "zero": false}, "axis": null},
                  "y": {"datum": 0.936, "scale": {"domain": [-0.04, 1.04], "nice": false, "zero": false}, "axis": null},
                  "text": {"field": "name"}}},
    {"data": {"name": "species"}, "transform": [{"filter": "datum.panel == 3"}],
     "mark": {"type": "rect", "fill": "white", "stroke": "black", "strokeWidth": 1.3},
     "encoding": {"x": {"datum": 0.01, "scale": {"domain": [0.01, 0.785], "range": [307.2, 435.5], "nice": false, "zero": false}, "axis": null},
                  "x2": {"datum": 0.785},
                  "y": {"datum": -0.2, "scale": {"domain": [-0.2, 0.368], "range": [169.7, 79], "nice": false, "zero": false}, "axis": null},
                  "y2": {"datum": 0.368}}},
    {"data": {"name": "species"}, "transform": [{"filter": "datum.panel == 3"}],
     "mark": {"type": "rule", "color": "#aaaaaa", "strokeDash": [1.5, 4], "strokeWidth": 1},
     "encoding": {"x": {"datum": 0.01, "scale": {"domain": [0.01, 0.785], "range": [307.2, 435.5], "nice": false, "zero": false}, "axis": null},
                  "x2": {"datum": 0.785},
                  "y": {"datum": 0, "scale": {"domain": [-0.2, 0.368], "range": [169.7, 79], "nice": false, "zero": false}, "axis": null}}},
    {"data": {"name": "resid"}, "transform": [{"filter": "datum.panel == 3"}],
     "mark": {"type": "point", "shape": "circle", "filled": false, "color": "black", "size": 10, "strokeWidth": 1.2, "opacity": 1},
     "encoding": {"x": {"field": "fit", "type": "quantitative", "scale": {"domain": [0.01, 0.785], "range": [307.2, 435.5], "nice": false, "zero": false},
                        "axis": {"orient": "bottom", "offset": -40.3, "values": [0.1, 0.2, 0.3, 0.4, 0.5, 0.6, 0.7], "labelExpr": "round(datum.value*10) % 2 == 1 ? format(datum.value, '.1f') : ''", "tickSize": 3, "tickWidth": 1, "labelFontSize": 7, "labelColor": "#888", "labelPadding": 8.5, "labelBaseline": "middle", "title": "Valori interpolati", "titleFontSize": 8, "titleColor": "#888", "titleY": 26.5, "titleBaseline": "middle"}},
                  "y": {"field": "res", "type": "quantitative", "scale": {"domain": [-0.2, 0.368], "range": [169.7, 79], "nice": false, "zero": false},
                        "axis": {"orient": "left", "offset": -307.2, "values": [-0.2, 0, 0.1, 0.2, 0.3], "labelExpr": "format(abs(datum.value), '.1f')", "tickSize": 3, "tickWidth": 1, "labelFontSize": 7, "labelColor": "#888", "labelAngle": 270, "labelAlign": "center", "labelBaseline": "alphabetic", "labelPadding": 12, "title": "Residui", "titleFontSize": 8, "titleColor": "#888", "titleAngle": 270, "titleX": -37, "titleAlign": "center", "titleBaseline": "middle"}}}},
    {"data": {"name": "species"}, "transform": [{"filter": "datum.panel == 3"}],
     "mark": {"type": "text", "align": "center", "baseline": "middle", "fontSize": 8.3, "color": "#888", "dy": -5},
     "encoding": {"x": {"datum": 0.406, "scale": {"domain": [0.01, 0.785], "range": [307.2, 435.5], "nice": false, "zero": false}, "axis": null},
                  "y": {"datum": 0.368, "scale": {"domain": [-0.2, 0.368], "range": [169.7, 79], "nice": false, "zero": false}, "axis": null},
                  "text": {"value": "Residui vs Interpolati"}}}
  ]
 },
 {
  "width": 450, "height": 210,
  "resolve": {"scale": {"x": "independent", "y": "independent"}, "axis": {"x": "independent", "y": "independent"}},
  "layer": [
    {"data": {"name": "fits"}, "transform": [{"filter": "datum.panel == 4"}],
     "mark": {"type": "rule", "clip": true, "color": "black", "strokeWidth": 1.5},
     "encoding": {"x": {"field": "x1", "type": "quantitative", "scale": {"domain": [-0.04, 1.026], "nice": false, "zero": false}, "axis": null},
                  "y": {"field": "y1", "type": "quantitative", "scale": {"domain": [-0.04, 1.04], "nice": false, "zero": false}, "axis": null},
                  "x2": {"field": "x2"}, "y2": {"field": "y2"}}},
    {"data": {"name": "main"}, "transform": [{"filter": "datum.panel == 4"}],
     "mark": {"type": "point", "shape": "circle", "filled": false, "color": "black", "size": 36, "strokeWidth": 1.5, "opacity": 1},
     "encoding": {"x": {"field": "obs", "type": "quantitative", "scale": {"domain": [-0.04, 1.026], "nice": false, "zero": false},
                        "axis": {"orient": "bottom", "values": [0, 0.2, 0.4, 0.6, 0.8, 1], "format": ".1f", "title": "Densità osservate", "tickSize": 11, "tickWidth": 1.4, "labelFontSize": 17, "labelColor": "#222", "labelPadding": 19, "labelBaseline": "middle", "titleFontSize": 17, "titleColor": "#222", "titleX": 232, "titleY": 60, "titleBaseline": "middle"}},
                  "y": {"field": "pred", "type": "quantitative", "scale": {"domain": [-0.04, 1.04], "nice": false, "zero": false},
                        "axis": {"orient": "left", "values": [0, 0.2, 0.4, 0.6, 0.8, 1], "format": ".1f", "title": "Densità previste", "tickSize": 11, "tickWidth": 1.4, "labelFontSize": 17, "labelColor": "#222", "labelAngle": 270, "labelAlign": "center", "labelBaseline": "alphabetic", "labelPadding": 2, "labelOffset": -10, "titleFontSize": 17, "titleColor": "#111", "titleAngle": 270, "titleX": -48, "titleY": 78, "titleAlign": "center", "titleBaseline": "middle"}}}},
    {"data": {"name": "species"}, "transform": [{"filter": "datum.panel == 4"}],
     "mark": {"type": "text", "align": "left", "baseline": "middle", "fontSize": 17, "fontStyle": "italic", "color": "#111"},
     "encoding": {"x": {"datum": -0.02, "scale": {"domain": [-0.04, 1.026], "nice": false, "zero": false}, "axis": null},
                  "y": {"datum": 0.955, "scale": {"domain": [-0.04, 1.04], "nice": false, "zero": false}, "axis": null},
                  "text": {"field": "name"}}},
    {"data": {"name": "species"}, "transform": [{"filter": "datum.panel == 4"}],
     "mark": {"type": "rect", "fill": "white", "stroke": "black", "strokeWidth": 1.3},
     "encoding": {"x": {"datum": 0.068, "scale": {"domain": [0.068, 0.774], "range": [305.8, 439], "nice": false, "zero": false}, "axis": null},
                  "x2": {"datum": 0.774},
                  "y": {"datum": -0.171, "scale": {"domain": [-0.171, 0.285], "range": [184.7, 92.3], "nice": false, "zero": false}, "axis": null},
                  "y2": {"datum": 0.285}}},
    {"data": {"name": "species"}, "transform": [{"filter": "datum.panel == 4"}],
     "mark": {"type": "rule", "color": "#aaaaaa", "strokeDash": [1.5, 4], "strokeWidth": 1},
     "encoding": {"x": {"datum": 0.068, "scale": {"domain": [0.068, 0.774], "range": [305.8, 439], "nice": false, "zero": false}, "axis": null},
                  "x2": {"datum": 0.774},
                  "y": {"datum": 0, "scale": {"domain": [-0.171, 0.285], "range": [184.7, 92.3], "nice": false, "zero": false}, "axis": null}}},
    {"data": {"name": "resid"}, "transform": [{"filter": "datum.panel == 4"}],
     "mark": {"type": "point", "shape": "circle", "filled": false, "color": "black", "size": 10, "strokeWidth": 1.4, "opacity": 1},
     "encoding": {"x": {"field": "fit", "type": "quantitative", "scale": {"domain": [0.068, 0.774], "range": [305.8, 439], "nice": false, "zero": false},
                        "axis": {"orient": "bottom", "offset": -25.3, "values": [0.1, 0.2, 0.3, 0.4, 0.5, 0.6, 0.7], "format": ".1f", "tickSize": 3, "tickWidth": 1, "labelFontSize": 7, "labelColor": "#888", "labelPadding": 5.5, "labelBaseline": "middle", "title": "Valori interpolati", "titleFontSize": 8, "titleColor": "#888", "titleY": 19.5, "titleBaseline": "middle"}},
                  "y": {"field": "res", "type": "quantitative", "scale": {"domain": [-0.171, 0.285], "range": [184.7, 92.3], "nice": false, "zero": false},
                        "axis": {"orient": "left", "offset": -305.8, "values": [-0.1, 0, 0.1, 0.2], "labelExpr": "format(abs(datum.value), '.1f')", "tickSize": 3, "tickWidth": 1, "labelFontSize": 7, "labelColor": "#888", "labelAngle": 270, "labelAlign": "center", "labelBaseline": "alphabetic", "labelPadding": 9, "title": "Residui", "titleFontSize": 8, "titleColor": "#888", "titleAngle": 270, "titleX": -35.7, "titleAlign": "center", "titleBaseline": "middle"}}}},
    {"data": {"name": "species"}, "transform": [{"filter": "datum.panel == 4"}],
     "mark": {"type": "text", "align": "center", "baseline": "middle", "fontSize": 8.3, "color": "#888", "dy": -4.5},
     "encoding": {"x": {"datum": 0.456, "scale": {"domain": [0.068, 0.774], "range": [305.8, 439], "nice": false, "zero": false}, "axis": null},
                  "y": {"datum": 0.285, "scale": {"domain": [-0.171, 0.285], "range": [184.7, 92.3], "nice": false, "zero": false}, "axis": null},
                  "text": {"value": "Residui vs Interpolati"}}}
  ]
 }
]
}
